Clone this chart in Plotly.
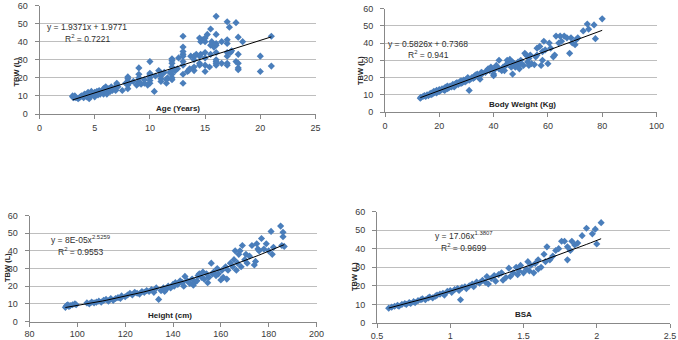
import numpy as np
import plotly.graph_objects as go

# ---------------- data ----------------
age = [3.0,3.0,3.1,3.2,3.3,3.5,3.6,3.7,3.8,4.0,4.0,4.1,4.2,4.3,4.4,4.5,4.5,4.6,4.7,4.8,4.9,5.0,5.0,5.1,5.2,5.3,5.4,5.5,5.6,5.8,5.8,5.9,6.0,6.0,6.1,6.2,6.3,6.4,6.5,6.6,6.8,6.9,7.0,7.0,7.1,7.5,7.8,8.0,8.0,8.0,8.0,8.0,8.1,8.5,8.8,9.0,9.0,9.0,9.0,9.0,9.2,9.5,9.5,9.8,10.0,10.0,10.0,10.0,10.0,10.0,10.4,10.5,10.8,11.0,11.0,11.0,11.0,11.3,11.5,11.5,11.6,11.8,12.0,12.0,12.0,12.0,12.0,12.0,12.0,12.0,12.3,12.5,12.6,13.0,13.0,13.0,13.0,13.0,13.0,13.0,13.0,13.0,13.4,13.5,13.6,13.7,14.0,14.0,14.0,14.0,14.2,14.5,14.5,14.5,14.6,14.6,14.5,14.8,15.0,15.0,15.0,15.0,15.0,15.0,15.2,15.4,15.5,15.5,15.6,15.5,15.8,16.0,16.0,16.0,16.0,16.0,16.0,16.0,16.0,16.0,16.5,16.5,17.0,17.0,17.0,17.0,17.0,17.0,17.0,17.2,17.3,17.4,17.8,17.8,18.0,18.0,18.0,18.0,18.0,18.4,20.0,20.0,21.0,21.0]
tbw_age = [10,9.5,9,10,9,8.5,9,9.5,10,9,10.5,11,10,9.5,12,11,8.5,10,12.5,11,10.5,12,9.5,11,12.5,10.5,13,11,12,14,11,13,12,15,11,13.5,14,12.5,15,13,14,13,16,17,15,13,17,14,16,18,19.5,20.5,17,18,16,17,18,20,22,25.5,16.5,17,19,16,17,18.5,20,21.5,22.5,29,12.5,21,24,18,19.5,21,22,23,17,19,20,23,19,20,22,24,26,28,29.5,30.5,24,25,31,17,22,27,29,32,33,34.5,37,43,23.5,24,25,32,24,26,30,32,33,27,28,32,33,40,42,41,23.5,27,31,34,40,42,44,26,33,38,40,47,37,27,28,29,30,34,38,39,44,54,28,40,27,28,32,34,39,41,51,48,34,35,29,50.5,24.5,25.5,28,33,42.5,40,23.5,32,26.5,43]

weight = [13,13.2,14,14.5,15,15.5,16,16.5,17,17,17.5,18,18,18.5,19,19,19.5,20,20,20.5,21,21.5,22,22,22.5,23,23,23.5,24,24.5,25,25,25.5,26,26,26.5,27,27.5,28,28,28.5,29,29.5,30,30,30.5,31,31,31.5,32,32.5,33,33,33.5,34,34.5,35,35,35.5,36,37,37.5,38,38.5,39,39.5,40,40,40,41,41,42,42,43,43.5,44,44.5,45,45,45.5,46,46.5,47,47,47.5,48,48.5,49,49.5,50,50,51,51.5,52,52.5,53,53,53.5,54,55,55.5,56,56,57,57.5,58,58,58.5,59,60,60.5,61,62,62.5,63,64,64.5,65,66,67,68,68.5,69,70,70.5,71,73,74.5,75,77,77.5,80]
tbw_weight = [8,8.5,9,9.5,9,10,9.5,10.5,10,11,10.5,11,12,11.5,12.5,11,12,12,13,12.5,13.5,13,14,12.5,14.5,13.5,15,14,15,14.5,15.5,16,14.5,16.5,15.5,17,16,17.5,18,16.5,17,18.5,17.5,19,18,20,12.5,18.5,19,20,19.5,21,20,21.5,22,20.5,21,19,23,22.5,23,24,25,24,26,25,21,22,24,26,27,30,25,24,26,24,27,28,30,29,30.5,26,22,29,28,26,27,29,25,28,30,27,34,33,29,27,31,33,28,27.5,32,33,37,38,27,30,35,41,36,28,40,37,32,33,44,40,44,41,44,43,34,43,40,39,42,43,47,51,48,50.5,42.5,54]

height = [95,95.5,96,96.5,97,98,99,99.5,104,105,106,107,108,109,110,111,112,113,114,115,116,117,118,118.5,120,121,122,123,124,125,126,127,128,129,130,131,132,133,134,135,136,136.5,137,138,139,140,140.5,141,142,143,144,144.5,145,146,147,148,148.5,149,150,150.5,151,152,152.5,153,154,154.5,155,156,156.5,157,158,158.5,159,160,160.5,161,162,162.5,163,164,165,165.5,166,166.5,167,167.5,168,168.5,169,170,170.5,171,172,173,174,174.5,175,175.5,176,177,178,179,180,181,181.5,182,185,185.5,186,186,186.5]
tbw_height = [8,9,9.5,8.5,9,9.5,10,9.5,10.5,10,11,10.5,11,11.5,11,12,12.5,11.5,13,12,13,13.5,13,14.5,14,15,16,15,16.5,16,15.5,17,16.5,17.5,17,18,16.5,19,12.5,17.5,19,17,18,20,19,21,20,22,21,23,22,20,25.5,23,21.5,24,20.5,22,23,26,27,25,28,24,27,22,25,33,27,28,26,30,27,23.5,29,25,31,24,29,33,31,35,40,29,33,38,40,31,43,35,38,33,37,43,32,34,44,41,40,47,41,44,40,51,38,42,54,43,48,50.5,42.5]

bsa = [0.58,0.6,0.62,0.64,0.65,0.67,0.69,0.7,0.72,0.73,0.75,0.76,0.78,0.8,0.81,0.83,0.85,0.86,0.88,0.9,0.91,0.93,0.95,0.96,0.98,1.0,1.01,1.03,1.05,1.06,1.07,1.08,1.1,1.11,1.13,1.15,1.16,1.18,1.2,1.22,1.24,1.25,1.26,1.28,1.3,1.31,1.33,1.35,1.36,1.38,1.4,1.41,1.43,1.45,1.46,1.47,1.48,1.5,1.52,1.53,1.54,1.55,1.57,1.58,1.6,1.6,1.62,1.64,1.65,1.66,1.68,1.7,1.72,1.74,1.76,1.78,1.8,1.8,1.82,1.83,1.85,1.87,1.9,1.93,1.97,1.99,2.0,2.03]
tbw_bsa = [8,8.5,9,9.5,9,10,10.5,10,11,10.5,11.5,11,12,12.5,13,12.5,13.5,14,13.5,14.5,15,15.5,16,15,17,17.5,16.5,18,18.5,17.5,12.5,19,19.5,18.5,20,21,19.5,22,21.5,23,22,25,21,24,25.5,22.5,26,27,23,24.5,29.5,25,27,30,26,28,31,27,29,33,28,31,27,32,34,29,30,37,33,41,34,36,39,40,44,44,34,41,39,44,42,43,47,51,48,50.5,42.5,54]

# trendline coefficients (from the chart labels)
lin_age = (1.9371, 1.9771)
lin_weight = (0.5826, 0.7368)
pow_height = (8e-05, 2.5259)
pow_bsa = (17.06, 1.3807)

W, H = 678, 340
def px(x): return x / W
def py(y): return 1 - y / H

FONT = "Liberation Sans"
BLUE = "#4A7EBB"
GRID = "#BEBEBE"
AXC = "#888888"
TICKF = dict(family=FONT, size=9, color="#3a3a3a")

fig = go.Figure()

panels = [
    dict(x=age, y=tbw_age, kind="lin", c=lin_age, ax=("x", "y")),
    dict(x=weight, y=tbw_weight, kind="lin", c=lin_weight, ax=("x2", "y2")),
    dict(x=height, y=tbw_height, kind="pow", c=pow_height, ax=("x3", "y3")),
    dict(x=bsa, y=tbw_bsa, kind="pow", c=pow_bsa, ax=("x4", "y4")),
]
for p in panels:
    fig.add_trace(go.Scatter(x=p["x"], y=p["y"], mode="markers", xaxis=p["ax"][0], yaxis=p["ax"][1],
                             marker=dict(symbol="diamond", size=5.5, color=BLUE, line=dict(width=0)),
                             showlegend=False, hoverinfo="skip"))
    xs = np.linspace(min(p["x"]), max(p["x"]), 60)
    a, b = p["c"]
    ys = a * xs + b if p["kind"] == "lin" else a * xs ** b
    fig.add_trace(go.Scatter(x=xs, y=ys, mode="lines", xaxis=p["ax"][0], yaxis=p["ax"][1],
                             line=dict(color="black", width=1), showlegend=False, hoverinfo="skip"))

def xax(dom, rng, dtick, anchor, standoff=1):
    return dict(domain=dom, range=rng, dtick=dtick, anchor=anchor, showgrid=False, zeroline=False,
                automargin=False, showline=True, linecolor=AXC, linewidth=1,
                ticks="outside", ticklen=4, tickcolor=AXC, ticklabelstandoff=standoff,
                tickfont=TICKF, fixedrange=True)

def yax(dom, anchor):
    return dict(domain=dom, range=[0, 60], dtick=10, anchor=anchor, showgrid=True, gridcolor=GRID,
                automargin=False, gridwidth=1, zeroline=False, showline=True, linecolor=AXC, linewidth=1,
                ticks="outside", ticklen=4, tickcolor=AXC, ticklabelstandoff=5,
                tickfont=TICKF, fixedrange=True)

fig.update_layout(
    template="none",
    width=W, height=H, margin=dict(l=0, r=0, t=0, b=0, autoexpand=False),
    paper_bgcolor="white", plot_bgcolor="white",
    xaxis=xax([px(39.5), px(315.5)], [0, 25], 5, "y"),
    yaxis=yax([py(114), py(5.5)], "x"),
    xaxis2=xax([px(385), px(656.5)], [0, 100], 20, "y2"),
    yaxis2=yax([py(112), py(8.5)], "x2"),
    xaxis3=xax([px(29.5), px(316.5)], [80, 200], 20, "y3", 0),
    yaxis3=yax([py(321.5), py(215.5)], "x3"),
    xaxis4=xax([px(377), px(670)], [0.5, 2.5], 0.5, "y4", 0),
    yaxis4=yax([py(323), py(211.5)], "x4"),
)

def ann(text, x, y, size=8.5, bold=False, angle=0, color="#303030"):
    if bold:
        text = "<b>" + text + "</b>"
    fig.add_annotation(text=text, x=px(x), y=py(y), xref="paper", yref="paper", showarrow=False,
                       xanchor="center", yanchor="middle", textangle=angle,
                       font=dict(family=FONT, size=size, color=color))

# y titles
ann("TBW (L)", 15.5, 72, 7.5, True, -90, "#222")
ann("TBW (L)", 360, 71, 7.5, True, -90, "#222")
ann("TBW (L)", 7, 268, 7.5, True, -90, "#222")
ann("TBW (L)", 354, 277, 7.5, True, -90, "#222")
# x titles
ann("Age (Years)", 178, 108.5, 8, True, 0, "#222")
ann("Body Weight (Kg)", 522.5, 104, 8, True, 0, "#222")
ann("Height (cm)", 170, 315.5, 8, True, 0, "#222")
ann("BSA", 523, 314, 8, True, 0, "#222")
# equations
ann("y = 1.9371x + 1.9771", 87.5, 27)
ann("R<sup>2</sup> = 0.7221", 87.5, 38.5)
ann("y = 0.5826x + 0.7368", 428, 43.5)
ann("R<sup>2</sup> = 0.941", 428, 55)
ann("y = 8E-05x<sup>2.5259</sup>", 81, 239.5)
ann("R<sup>2</sup> = 0.9553", 80.5, 251.5)
ann("y = 17.06x<sup>1.3807</sup>", 464, 235)
ann("R<sup>2</sup> = 0.9699", 463.5, 247)

fig.write_html("out.html", config={"displayModeBar": False},
               post_script="document.body.style.margin='0';")
